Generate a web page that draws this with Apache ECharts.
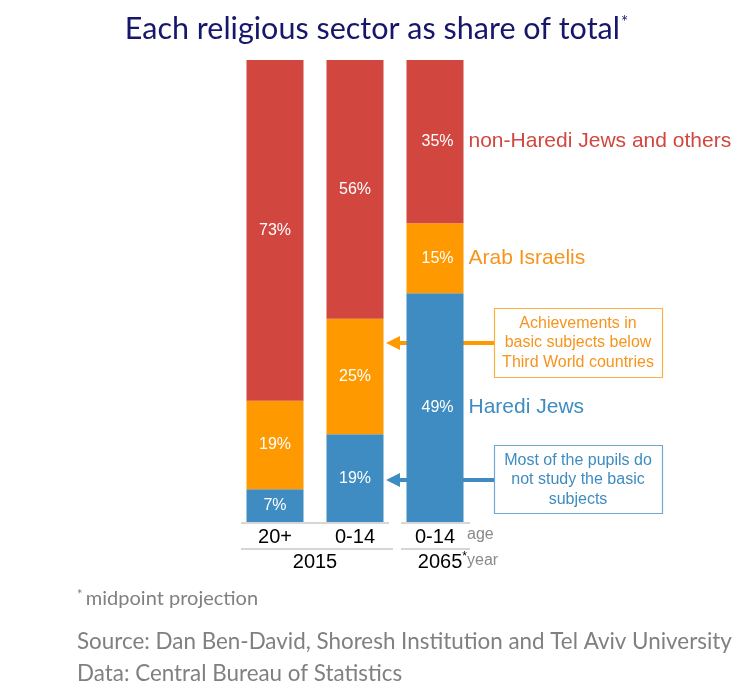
<!DOCTYPE html>
<html>
<head>
<meta charset="utf-8">
<script src="https://cdn.jsdelivr.net/npm/echarts@6/dist/echarts.min.js"></script>
<style>html,body{margin:0;padding:0;background:#fff;}#c{width:753px;height:691px;}</style>
</head>
<body>
<div id="c"></div>
<script>
const ages = ['20+', '0-14', '0-14'];
const years = ['2015', '2065'];
const seriesNames = ['Haredi Jews', 'Arab Israelis', 'non-Haredi Jews and others'];
const haredi = [7, 19, 49];
const arab = [19, 25, 15];
const nonHaredi = [73, 56, 35];
const colors = ['#3E8CC1', '#FF9900', '#D1463F'];
const textColors = ['#3E8CC1', '#F7941D', '#D1463F'];

const raw = [haredi, arab, nonHaredi];
const totals = ages.map((_, i) => raw.reduce((s, a) => s + a[i], 0));

const chart = echarts.init(document.getElementById('c'));
const series = raw.map((arr, si) => ({
  name: seriesNames[si],
  type: 'bar',
  stack: 'total',
  barWidth: 57,
  itemStyle: { color: colors[si] },
  data: arr.map((v, i) => {
    const d = { value: v / totals[i] * 100, raw: v };
    if (i === ages.length - 1) {
      d.label = {
        show: true,
        position: 'insideLeft',
        distance: 0,
        formatter: '{v|' + v + '%}{n|' + seriesNames[si] + '}',
        rich: {
          v: { width: 62, align: 'center', color: '#fff', fontSize: 16, fontFamily: 'Liberation Sans' },
          n: { color: textColors[si], fontSize: 21, fontFamily: 'Liberation Sans', padding: [0, 0, 0, 0] }
        }
      };
    }
    return d;
  }),
  label: {
    show: true,
    position: 'inside',
    color: '#fff',
    fontSize: 16,
    fontFamily: 'Liberation Sans',
    formatter: p => p.data.raw + '%'
  }
}));

const lineStyle = { stroke: '#c8c8c8', lineWidth: 1.5 };
const boxText = { fontSize: 16, fontFamily: 'Liberation Sans', align: 'center', verticalAlign: 'middle', lineHeight: 19.5 };

chart.setOption({
  animation: false,
  title: {
    text: '{t|Each religious sector as share of total}{s|*}',
    left: 'center',
    top: 9,
    textStyle: {
      rich: {
        t: { fontSize: 30.5, fontFamily: 'Lato', fontWeight: 'normal', color: '#16166B' },
        s: { fontSize: 17, fontFamily: 'Lato', fontWeight: 'normal', color: '#16166B', padding: [0, 0, 14, 1] }
      }
    }
  },
  grid: { left: 235, right: 278, top: 60, bottom: 169, containLabel: false },
  xAxis: {
    type: 'category',
    data: ages,
    axisLine: { show: false },
    axisTick: { show: false },
    axisLabel: { color: '#000', fontSize: 20, fontFamily: 'Liberation Sans', margin: 5 }
  },
  yAxis: { type: 'value', min: 0, max: 100, show: false, splitLine: { show: false } },
  series: series,
  graphic: [
    { type: 'line', shape: { x1: 241, y1: 523, x2: 389, y2: 523 }, style: lineStyle },
    { type: 'line', shape: { x1: 401, y1: 523, x2: 470, y2: 523 }, style: lineStyle },
    { type: 'line', shape: { x1: 241, y1: 549, x2: 393, y2: 549 }, style: lineStyle },
    { type: 'line', shape: { x1: 401, y1: 549, x2: 470, y2: 549 }, style: lineStyle },
    { type: 'text', left: 467, top: 527, style: { text: 'age', fill: '#8a8a8a', fontSize: 16, fontFamily: 'Liberation Sans' } },
    { type: 'text', left: 467, top: 553, style: { text: 'year', fill: '#8a8a8a', fontSize: 16, fontFamily: 'Liberation Sans' } },
    { type: 'text', x: 315, y: 562, style: { text: years[0], fill: '#000', fontSize: 20, fontFamily: 'Liberation Sans', align: 'center', verticalAlign: 'middle' } },
    { type: 'text', x: 467, y: 562, style: {
        text: '{y|' + years[1] + '}{s|*}', align: 'right', verticalAlign: 'middle',
        rich: { y: { fill: '#000', fontSize: 20, fontFamily: 'Liberation Sans' }, s: { fill: '#000', fontSize: 12, fontFamily: 'Liberation Sans', padding: [0, 0, 10, 0] } } } },
    // orange annotation
    { type: 'line', z: -10, shape: { x1: 398, y1: 343, x2: 494, y2: 343 }, style: { stroke: '#FF9900', lineWidth: 4 } },
    { type: 'polygon', z: -10, shape: { points: [[386, 343], [400, 336], [400, 350]] }, style: { fill: '#FF9900' } },
    { type: 'rect', shape: { x: 494.5, y: 308.5, width: 168, height: 69 }, style: { fill: '#fff', stroke: '#FBB040', lineWidth: 1.2 } },
    { type: 'text', x: 578, y: 343, style: Object.assign({ text: 'Achievements in\nbasic subjects below\nThird World countries', fill: '#F7941D' }, boxText) },
    // blue annotation
    { type: 'line', z: -10, shape: { x1: 398, y1: 480, x2: 494, y2: 480 }, style: { stroke: '#3E8CC1', lineWidth: 4 } },
    { type: 'polygon', z: -10, shape: { points: [[386, 480], [400, 473], [400, 487]] }, style: { fill: '#3E8CC1' } },
    { type: 'rect', shape: { x: 494.5, y: 445.5, width: 168, height: 68 }, style: { fill: '#fff', stroke: '#6FA8D3', lineWidth: 1.2 } },
    { type: 'text', x: 578, y: 480, style: Object.assign({ text: 'Most of the pupils do\nnot study the basic\nsubjects', fill: '#3E8CC1' }, boxText) },
    // footnotes
    { type: 'text', left: 77, top: 588, style: {
        text: '{s|*} {t|midpoint projection}',
        rich: { s: { fill: '#808080', fontSize: 13, fontFamily: 'Lato', padding: [0, 0, 8, 0] }, t: { fill: '#808080', fontSize: 20, fontFamily: 'Lato' } } } },
    { type: 'text', left: 77, top: 631, style: { text: 'Source: Dan Ben-David, Shoresh Institution and Tel Aviv University', fill: '#808080', fontSize: 22.4, fontFamily: 'Lato' } },
    { type: 'text', left: 77, top: 663, style: { text: 'Data: Central Bureau of Statistics', fill: '#808080', fontSize: 22.4, fontFamily: 'Lato' } }
  ]
});
</script>
</body>
</html>
